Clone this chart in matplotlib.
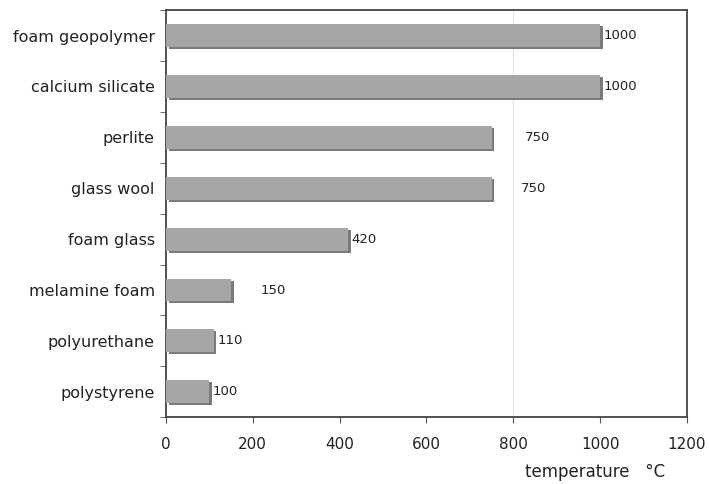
import matplotlib.pyplot as plt
import numpy as np

# data
materials = ['foam geopolymer', 'calcium silicate', 'perlite', 'glass wool',
             'foam glass', 'melamine foam', 'polyurethane', 'polystyrene']
temps = [1000, 1000, 750, 750, 420, 150, 110, 100]
# where the value labels start (x, data units)
label_x = [1008, 1008, 827, 818, 428, 219, 118, 108]

fig = plt.figure(figsize=(7.09, 4.84), dpi=100)
ax = fig.add_axes([0.234, 0.138, 0.735, 0.841])

y = np.arange(len(materials))[::-1]

# shadow first, then the bar itself -> fake 3d look
ax.barh(y - 0.04, temps, height=0.45, left=6, color='#7a7a7a', zorder=2)
ax.barh(y, temps, height=0.45, left=0, color='#a6a6a6', zorder=3)

for yy, v, lx in zip(y, temps, label_x):
    ax.text(lx, yy, str(v), va='center', ha='left', fontsize=9.5, color='#222222', zorder=4)

ax.axvline(800, color='#e0e0e0', lw=0.8, zorder=1)

ax.set_xlim(0, 1200)
ax.set_ylim(-0.5, 7.5)
ax.set_xticks(range(0, 1201, 200))
ax.set_yticks(y)
ax.set_yticklabels(materials, fontsize=11.5, color='#222222')
ax.set_yticks(np.arange(-0.5, 7.6, 1), minor=True)
ax.tick_params(axis='y', which='major', length=0, pad=8)
ax.tick_params(axis='y', which='minor', length=4, color='#555555', direction='out')
ax.tick_params(axis='x', length=4, color='#555555', labelsize=11, labelcolor='#222222', pad=10)

for s in ax.spines.values():
    s.set_color('#444444')
    s.set_linewidth(1.3)

fig.text(0.74, 0.025, 'temperature   \u00b0C', fontsize=12, color='#222222', ha='left', va='center')

fig.savefig('out.png', dpi=100)
